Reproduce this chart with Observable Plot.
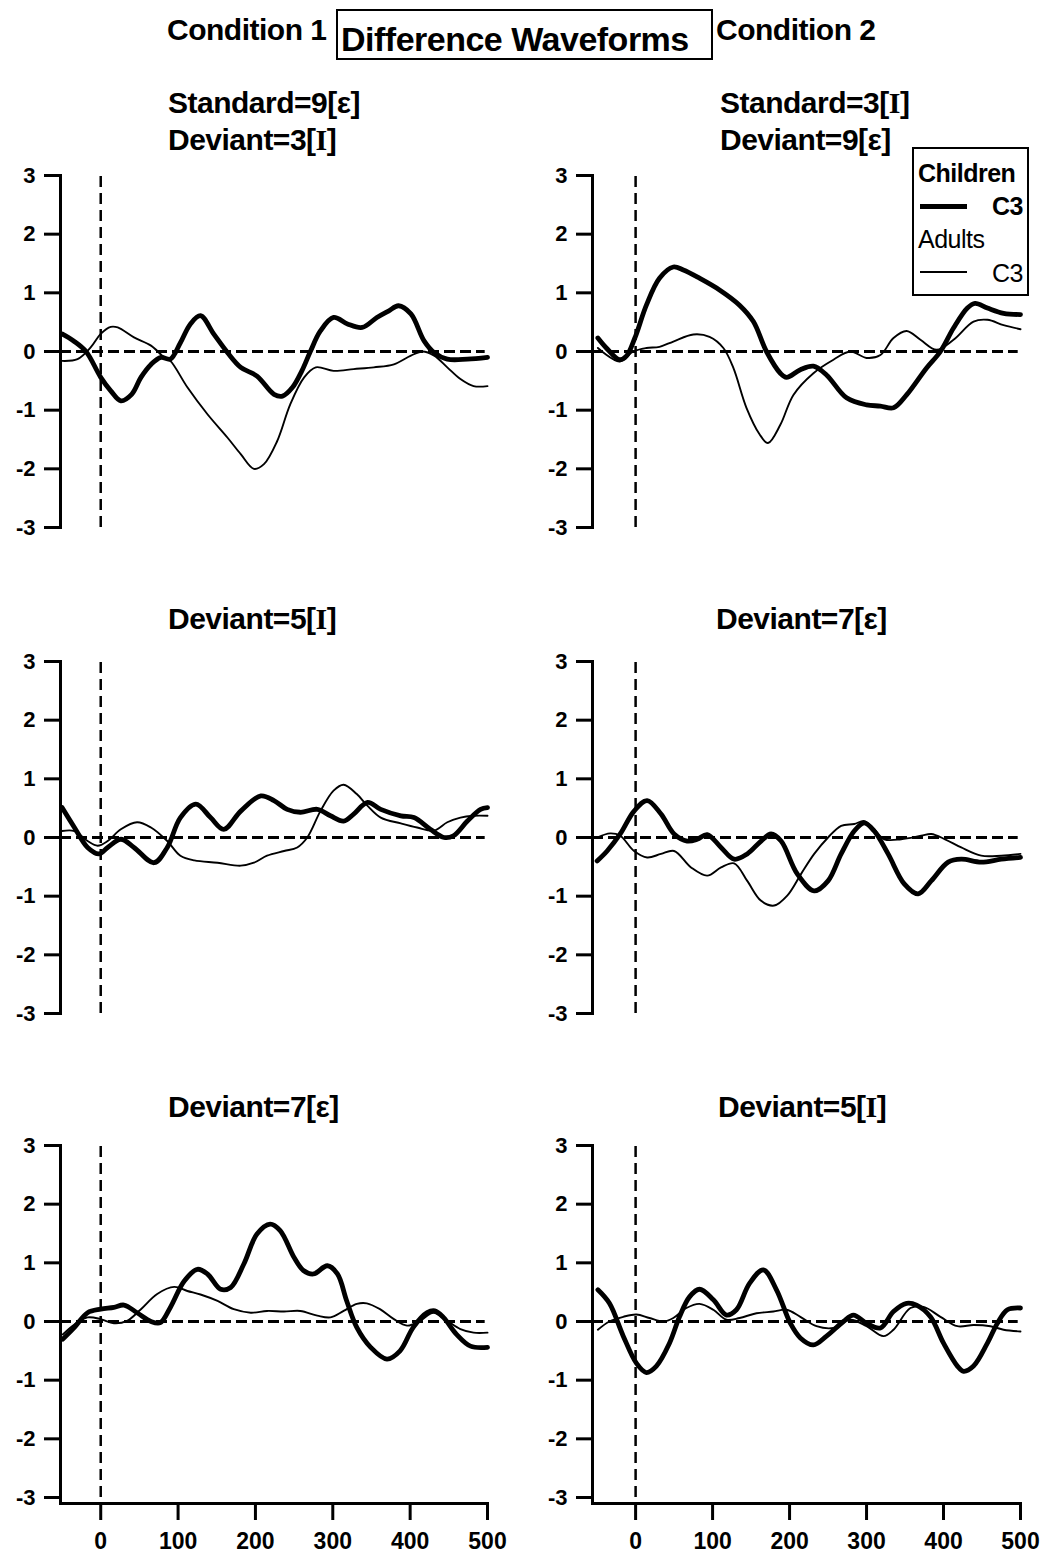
<!DOCTYPE html>
<html><head><meta charset="utf-8">
<script src="https://cdn.jsdelivr.net/npm/d3@7"></script>
<script src="https://cdn.jsdelivr.net/npm/@observablehq/plot@0.6"></script>
<style>
body{margin:0;background:#fff;}
#page{position:relative;width:1050px;height:1553px;background:#fff;font-family:"Liberation Sans",Arial,Helvetica,sans-serif;color:#000;overflow:hidden}
.txt{position:absolute;white-space:nowrap;letter-spacing:-0.5px;}
.ser{font-family:"Liberation Serif","Times New Roman",serif;}
.box{position:absolute;border:2px solid #000;box-sizing:border-box;background:#fff;}
.sw{position:absolute;background:#000;}
</style></head><body><div id="page"></div>
<script>
// ---------- tick labels ----------
const yTicks = [-3, -2, -1, 0, 1, 2, 3];
const xTicks = [0, 100, 200, 300, 400, 500];

// ---------- titles ----------
const headLeft = "Condition 1";
const headMid = "Difference Waveforms";
const headRight = "Condition 2";
const titlesRow1Left = ["Standard=9[ε]", "Deviant=3[I]"];
const titlesRow1Right = ["Standard=3[I]", "Deviant=9[ε]"];
const titlesRow2 = ["Deviant=5[I]", "Deviant=7[ε]"];
const titlesRow3 = ["Deviant=7[ε]", "Deviant=5[I]"];
const legendGroups = ["Children", "Adults"];
const legendChannel = "C3";

// ---------- data (time in ms, amplitude in µV) ----------
// Row 1, Condition 1
const p1ChildT = [-50,-35,-19,0,13,26,40,52,65,78,90,103,116,129,146,164,181,202,224,235,248,260,271,284,301,319,338,357,372,385,401,418,431,448,474,500];
const p1ChildV = [0.30,0.18,0.0,-0.44,-0.67,-0.84,-0.73,-0.44,-0.22,-0.10,-0.13,0.15,0.47,0.61,0.30,-0.02,-0.27,-0.42,-0.73,-0.76,-0.61,-0.33,0.0,0.35,0.58,0.47,0.41,0.58,0.69,0.78,0.64,0.18,-0.02,-0.13,-0.13,-0.10];
const p1AdultT = [-50,-30,-13,0,13,22,43,65,82,90,112,138,164,181,198,211,228,245,263,278,301,327,353,379,401,416,431,448,465,482,500];
const p1AdultV = [-0.16,-0.13,0.07,0.30,0.42,0.41,0.24,0.10,-0.10,-0.16,-0.61,-1.07,-1.47,-1.75,-2.0,-1.92,-1.53,-0.90,-0.44,-0.27,-0.33,-0.30,-0.27,-0.22,-0.07,0.0,-0.07,-0.27,-0.47,-0.59,-0.59];
// Row 1, Condition 2
const p2ChildT = [-49,-38,-21,-12,-1,14,31,49,62,83,109,135,153,170,188,196,214,231,248,274,300,318,335,352,378,396,413,431,441,457,478,500];
const p2ChildV = [0.23,0.06,-0.14,-0.08,0.23,0.79,1.25,1.44,1.39,1.25,1.05,0.79,0.51,0.0,-0.37,-0.44,-0.31,-0.25,-0.40,-0.79,-0.91,-0.93,-0.96,-0.74,-0.28,0.0,0.40,0.74,0.82,0.74,0.65,0.63];
const p2AdultT = [-49,-21,-3,14,31,49,75,96,114,127,144,161,172,188,205,231,257,279,300,318,335,352,370,391,413,439,457,478,500];
const p2AdultV = [0.06,-0.17,0.0,0.06,0.08,0.17,0.29,0.25,0.06,-0.28,-0.96,-1.41,-1.56,-1.25,-0.74,-0.37,-0.14,0.0,-0.11,-0.06,0.23,0.35,0.20,0.03,0.20,0.51,0.54,0.45,0.38];
// Row 2, Condition 1
const p3ChildT = [-50,-34,-17,-2,9,26,43,69,86,103,123,142,159,181,207,224,241,258,280,297,314,327,345,362,388,405,426,444,456,474,491,500];
const p3ChildV = [0.51,0.17,-0.17,-0.28,-0.17,-0.03,-0.17,-0.43,-0.17,0.34,0.57,0.34,0.14,0.45,0.71,0.63,0.48,0.43,0.48,0.37,0.28,0.40,0.60,0.48,0.37,0.34,0.14,0.0,0.03,0.28,0.48,0.51];
const p3AdultT = [-50,-34,-17,-4,9,26,47,65,86,103,121,151,181,198,215,237,254,267,284,301,314,331,345,362,388,409,431,448,465,482,500];
const p3AdultV = [0.11,0.11,-0.06,-0.14,-0.06,0.14,0.26,0.17,-0.06,-0.31,-0.39,-0.43,-0.48,-0.43,-0.31,-0.23,-0.17,0.0,0.45,0.80,0.90,0.74,0.54,0.34,0.24,0.17,0.12,0.26,0.34,0.37,0.37];
// Row 2, Condition 2
const p4ChildT = [-50,-37,-20,-2,15,33,50,67,80,93,111,128,145,163,176,189,210,232,250,267,284,297,310,328,349,367,384,406,423,449,475,500];
const p4ChildV = [-0.40,-0.23,0.06,0.45,0.63,0.40,0.06,-0.06,-0.03,0.05,-0.17,-0.37,-0.28,-0.06,0.06,-0.06,-0.62,-0.91,-0.74,-0.28,0.11,0.25,0.11,-0.28,-0.79,-0.96,-0.74,-0.42,-0.37,-0.42,-0.37,-0.34];
const p4AdultT = [-50,-33,-20,-2,15,33,50,72,93,111,128,145,163,180,197,215,232,250,267,284,297,310,323,345,371,384,402,423,449,475,500];
const p4AdultV = [0.0,0.07,0.03,-0.23,-0.34,-0.28,-0.23,-0.51,-0.65,-0.51,-0.44,-0.74,-1.08,-1.16,-0.99,-0.62,-0.28,0.0,0.20,0.23,0.28,0.14,-0.03,-0.03,0.03,0.06,-0.03,-0.17,-0.31,-0.31,-0.28];
// Row 3, Condition 1
const p5ChildT = [-49,-34,-17,0,17,30,47,65,77,90,108,125,138,155,168,185,202,219,232,250,262,275,293,306,318,331,349,370,387,404,422,432,443,460,478,500];
const p5ChildV = [-0.30,-0.10,0.15,0.21,0.24,0.28,0.15,0.0,-0.02,0.24,0.69,0.89,0.81,0.55,0.58,0.98,1.49,1.66,1.55,1.09,0.87,0.81,0.95,0.81,0.35,-0.10,-0.44,-0.64,-0.50,-0.10,0.15,0.18,0.07,-0.22,-0.42,-0.44];
const p5AdultT = [-49,-34,-17,0,17,34,52,73,95,112,129,151,172,194,215,237,258,280,297,314,331,344,361,379,396,413,430,448,465,482,500];
const p5AdultV = [-0.22,-0.05,0.07,0.04,-0.03,0.01,0.21,0.47,0.59,0.52,0.46,0.35,0.21,0.15,0.18,0.17,0.18,0.10,0.07,0.18,0.30,0.31,0.21,0.04,-0.07,0.01,0.15,0.01,-0.13,-0.19,-0.19];
// Row 3, Condition 2
const p6ChildT = [-49,-34,-16,1,14,27,44,57,70,83,101,118,131,148,166,183,201,214,231,248,270,283,300,318,335,352,365,383,400,418,426,439,457,470,483,500];
const p6ChildV = [0.54,0.31,-0.25,-0.71,-0.87,-0.76,-0.37,0.08,0.42,0.55,0.37,0.11,0.20,0.65,0.88,0.54,-0.03,-0.28,-0.40,-0.25,0.0,0.11,-0.03,-0.11,0.17,0.31,0.28,0.08,-0.37,-0.76,-0.85,-0.76,-0.37,-0.03,0.20,0.23];
const p6AdultT = [-49,-34,-16,1,18,36,49,66,83,101,118,135,157,179,196,214,235,257,279,300,322,335,357,374,396,418,439,461,478,500];
const p6AdultV = [-0.14,0.0,0.08,0.12,0.06,0.0,0.06,0.23,0.30,0.20,0.03,0.06,0.14,0.17,0.20,0.08,-0.08,-0.11,0.03,-0.08,-0.25,-0.14,0.23,0.25,0.08,-0.08,-0.06,-0.08,-0.14,-0.17];

// ---------- helpers ----------
const page = document.getElementById("page");
const toRows = (t, v) => t.map((x, i) => ({t: x, v: v[i]}));
const fmt = d => String(d);

function html(str) {
  return str.replace("[I]", '[<span class="ser">I</span>]');
}
function addText(str, x, baseline, size, weight, align) {
  const d = document.createElement("div");
  d.className = "txt";
  d.innerHTML = html(str);
  d.style.fontSize = size + "px";
  d.style.lineHeight = size + "px";
  d.style.fontWeight = weight;
  d.style.top = (baseline - 0.8465 * size) + "px";
  if (align === "right") d.style.right = (1050 - x) + "px";
  else d.style.left = x + "px";
  page.appendChild(d);
  return d;
}

function panel(tc, vc, ta, va, col, bottom) {
  const xmin = col === 0 ? -52 : -56;
  const marks = [
    Plot.ruleY([0], {x1: xmin, x2: 497, stroke: "#000", strokeWidth: 2.8, strokeDasharray: "11,5"}),
    Plot.ruleX([0], {y1: -3, y2: 3, stroke: "#000", strokeWidth: 2.5, strokeDasharray: "11,6"}),
    Plot.line(toRows(ta, va), {x: "t", y: "v", curve: "catmull-rom", stroke: "#000", strokeWidth: 1.9, strokeLinejoin: "round"}),
    Plot.line(toRows(tc, vc), {x: "t", y: "v", curve: "catmull-rom", stroke: "#000", strokeWidth: 4.8, strokeLinejoin: "round", strokeLinecap: "round"}),
    Plot.frame({anchor: "left", stroke: "#000", strokeWidth: 3}),
    Plot.axisY(yTicks, {tickSize: 16, tickPadding: 9, tickFormat: fmt, strokeWidth: 3, fontSize: 22, fontWeight: "bold", label: null})
  ];
  if (bottom) {
    marks.push(Plot.frame({anchor: "bottom", stroke: "#000", strokeWidth: 3}));
    marks.push(Plot.axisX(xTicks, {tickSize: 17, tickPadding: 12, tickFormat: fmt, strokeWidth: 3, fontSize: 23, fontWeight: "bold", label: null}));
  }
  return Plot.plot({
    width: 520,
    height: bottom ? 423 : 380,
    marginLeft: col === 0 ? 60 : 62,
    marginRight: col === 0 ? 33 : 30,
    marginTop: 15,
    marginBottom: bottom ? 50 : 13,
    x: {domain: [xmin, 500], axis: bottom ? undefined : null},
    y: {domain: [-3, 3], insetBottom: bottom ? 6 : 0},
    style: {fontFamily: '"Liberation Sans", Arial, sans-serif', fontSize: "22px", fontWeight: "bold", color: "#000", background: "transparent", overflow: "visible"},
    marks
  });
}

function place(svg, left, top) {
  svg.style.position = "absolute";
  svg.style.left = left + "px";
  svg.style.top = top + "px";
  page.appendChild(svg);
}

// ---------- panels ----------
const rowTops = [160, 646, 1130];
const colLefts = [0, 530];
place(panel(p1ChildT, p1ChildV, p1AdultT, p1AdultV, 0, false), colLefts[0], rowTops[0]);
place(panel(p2ChildT, p2ChildV, p2AdultT, p2AdultV, 1, false), colLefts[1], rowTops[0]);
place(panel(p3ChildT, p3ChildV, p3AdultT, p3AdultV, 0, false), colLefts[0], rowTops[1]);
place(panel(p4ChildT, p4ChildV, p4AdultT, p4AdultV, 1, false), colLefts[1], rowTops[1]);
place(panel(p5ChildT, p5ChildV, p5AdultT, p5AdultV, 0, true), colLefts[0], rowTops[2]);
place(panel(p6ChildT, p6ChildV, p6AdultT, p6AdultV, 1, true), colLefts[1], rowTops[2]);

// ---------- headings ----------
addText(headLeft, 167, 40, 30, "bold");
const hb = document.createElement("div");
hb.className = "box";
Object.assign(hb.style, {left: "336px", top: "9px", width: "377px", height: "51px", background: "transparent"});
page.appendChild(hb);
addText(headMid, 341, 51, 34, "bold");
addText(headRight, 716, 40, 30, "bold");

addText(titlesRow1Left[0], 168, 113, 30, "bold");
addText(titlesRow1Left[1], 168, 150, 30, "bold");
addText(titlesRow1Right[0], 720, 113, 30, "bold");
addText(titlesRow1Right[1], 720, 150, 30, "bold");
addText(titlesRow2[0], 168, 629, 30, "bold");
addText(titlesRow2[1], 716, 629, 30, "bold");
addText(titlesRow3[0], 168, 1117, 30, "bold");
addText(titlesRow3[1], 718, 1117, 30, "bold");

// ---------- legend ----------
const lb = document.createElement("div");
lb.className = "box";
Object.assign(lb.style, {left: "912px", top: "147px", width: "117px", height: "149px", borderWidth: "2.5px"});
page.appendChild(lb);
addText(legendGroups[0], 918, 182, 25, "bold");
const s1 = document.createElement("div");
s1.className = "sw";
Object.assign(s1.style, {left: "920px", top: "204px", width: "47px", height: "5px"});
page.appendChild(s1);
addText(legendChannel, 1023, 215, 25, "bold", "right");
addText(legendGroups[1], 918, 248, 25, "normal");
const s2 = document.createElement("div");
s2.className = "sw";
Object.assign(s2.style, {left: "920px", top: "271px", width: "47px", height: "2px"});
page.appendChild(s2);
addText(legendChannel, 1023, 282, 25, "normal", "right");
</script>
</body></html>
